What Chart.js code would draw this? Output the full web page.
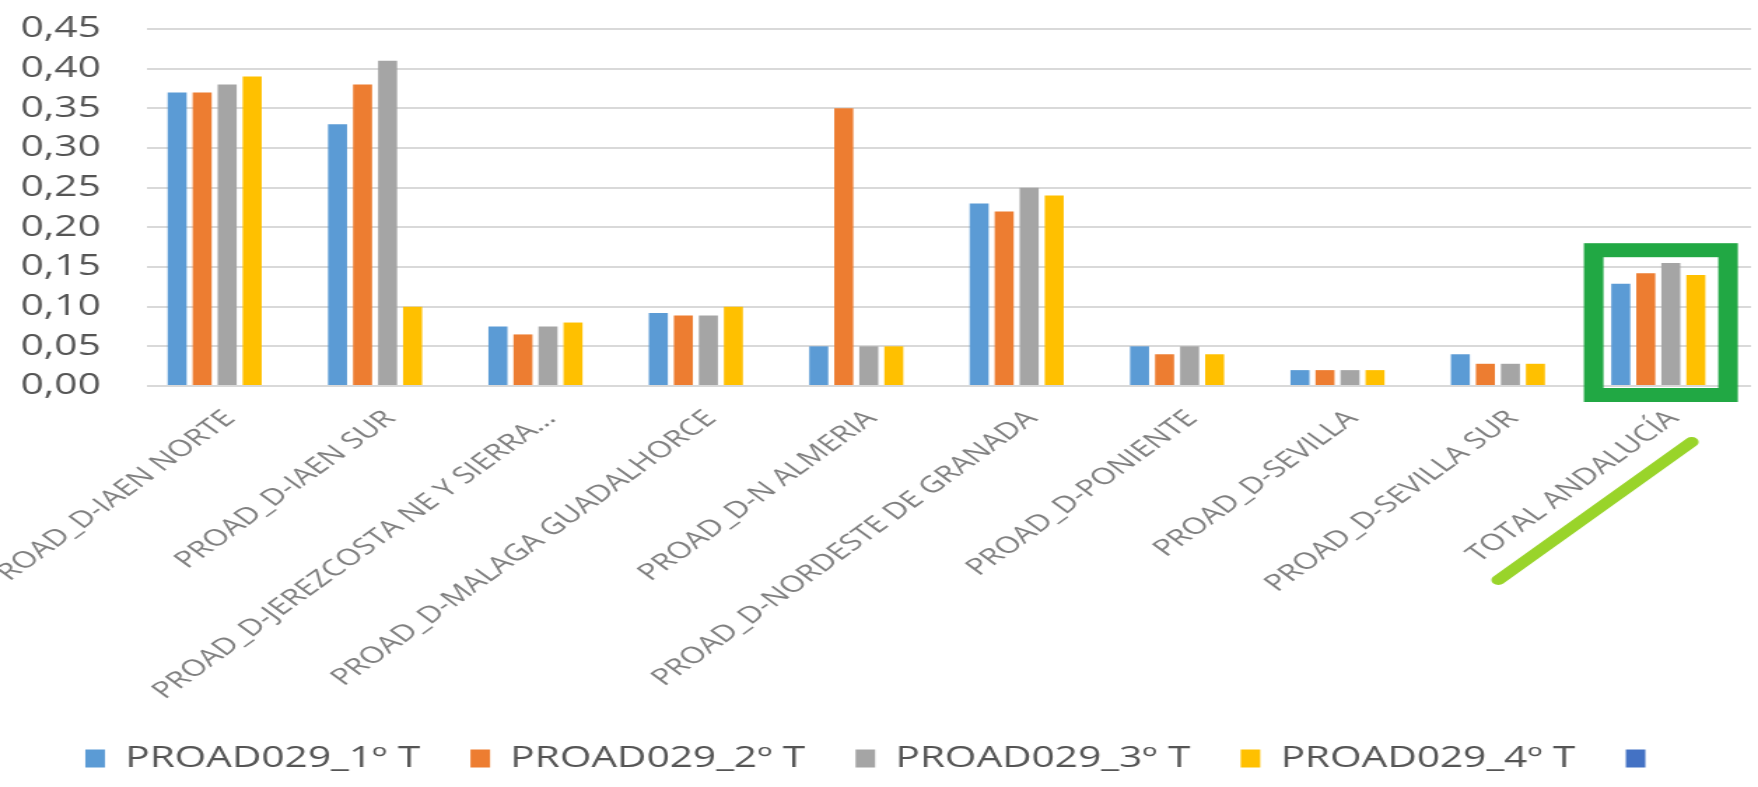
<!DOCTYPE html>
<html><head><meta charset="utf-8">
<script src="https://cdn.jsdelivr.net/npm/chart.js@4"></script>
<style>
html,body{margin:0;padding:0;background:#fff;overflow:hidden;width:1758px;height:787px}
#wrap{position:absolute;left:0;top:0;width:1256px;height:787px;transform:scaleX(1.39968);transform-origin:0 0}
canvas{display:block}
</style></head><body>
<div id="wrap"><canvas id="c" width="1256" height="787" style="width:1256px;height:787px"></canvas></div>
<script>
const categories = [
  'PROAD_D-IAEN NORTE',
  'PROAD_D-IAEN SUR',
  'PROAD_D-JEREZCOSTA NE Y SIERRA...',
  'PROAD_D-MALAGA GUADALHORCE',
  'PROAD_D-N ALMERIA',
  'PROAD_D-NORDESTE DE GRANADA',
  'PROAD_D-PONIENTE',
  'PROAD_D-SEVILLA',
  'PROAD_D-SEVILLA SUR',
  'TOTAL ANDALUCÍA'
];
const q1 = [0.37, 0.33, 0.075, 0.092, 0.05, 0.23, 0.05, 0.02, 0.04, 0.129];
const q2 = [0.37, 0.38, 0.065, 0.089, 0.35, 0.22, 0.04, 0.02, 0.028, 0.142];
const q3 = [0.38, 0.41, 0.075, 0.089, 0.05, 0.25, 0.05, 0.02, 0.028, 0.155];
const q4 = [0.39, 0.10, 0.08, 0.10, 0.05, 0.24, 0.04, 0.02, 0.028, 0.14];
const q5 = [null, null, null, null, null, null, null, null, null, null];
const seriesNames = ['PROAD029_1º T', 'PROAD029_2º T', 'PROAD029_3º T', 'PROAD029_4º T', ''];
const seriesColors = ['#5B9BD5', '#ED7D31', '#A5A5A5', '#FFC000', '#4472C4'];
const yTickLabels = ['0,00','0,05','0,10','0,15','0,20','0,25','0,30','0,35','0,40','0,45'];

const highlight = {
  id: 'highlight',
  afterDraw(chart) {
    const x = chart.scales.x, y = chart.scales.y, ctx = chart.ctx;
    const idx = categories.length - 1;
    const cx = x.getPixelForValue(idx);
    const cw = x.getPixelForValue(1) - x.getPixelForValue(0);
    const y0 = y.getPixelForValue(0);
    const lw = 14;
    const L = cx - 0.542 * cw, R = cx + 0.418 * cw;
    const T = y.getPixelForValue(0.18), B = y0 + 16;
    ctx.save();
    ctx.strokeStyle = '#21A844';
    ctx.lineWidth = lw;
    ctx.strokeRect(L + lw / 2, T + lw / 2, R - L - lw, B - T - lw);
    ctx.strokeStyle = '#99D42A';
    ctx.lineWidth = 10;
    ctx.lineCap = 'round';
    ctx.beginPath();
    ctx.moveTo(cx - 1.075 * cw, y0 + 194);
    ctx.lineTo(cx + 0.13 * cw, y0 + 56);
    ctx.stroke();
    ctx.restore();
  }
};

const datasets = [q1, q2, q3, q4, q5].map((d, i) => ({
  label: seriesNames[i],
  data: d,
  backgroundColor: seriesColors[i],
  borderWidth: 0,
  categoryPercentage: 0.78,
  barPercentage: 0.76
}));

new Chart(document.getElementById('c'), {
  type: 'bar',
  data: { labels: categories, datasets },
  plugins: [highlight],
  options: {
    responsive: false,
    animation: false,
    devicePixelRatio: 1,
    layout: { padding: { top: 29, right: 5, left: 0, bottom: 4 } },
    plugins: {
      legend: {
        position: 'bottom',
        labels: {
          font: { family: 'Open Sans', size: 29 },
          color: '#555555',
          boxWidth: 14,
          boxHeight: 18,
          padding: 36
        }
      },
      tooltip: { enabled: false }
    },
    scales: {
      x: {
        grid: { display: false, drawTicks: false },
        border: { display: false },
        ticks: {
          autoSkip: false, maxRotation: 45, minRotation: 45,
          font: { family: 'Open Sans', size: 23 },
          color: '#7f7f7f', padding: 19, labelOffset: 2
        },
        afterFit(s) { s.height = 322; s.paddingLeft = 0; s.paddingRight = 0; }
      },
      y: {
        min: 0, max: 0.45,
        ticks: {
          stepSize: 0.05,
          autoSkip: false,
          callback: (v, i) => yTickLabels[i],
          font: { family: 'Open Sans', size: 29 },
          color: '#555555', padding: 33
        },
        grid: { color: '#d9d9d9', lineWidth: 2, drawTicks: false },
        border: { display: false },
        afterFit(s) { s.width = 105; s.paddingTop = 0; s.paddingBottom = 0; }
      }
    }
  }
});
</script>
</body></html>
